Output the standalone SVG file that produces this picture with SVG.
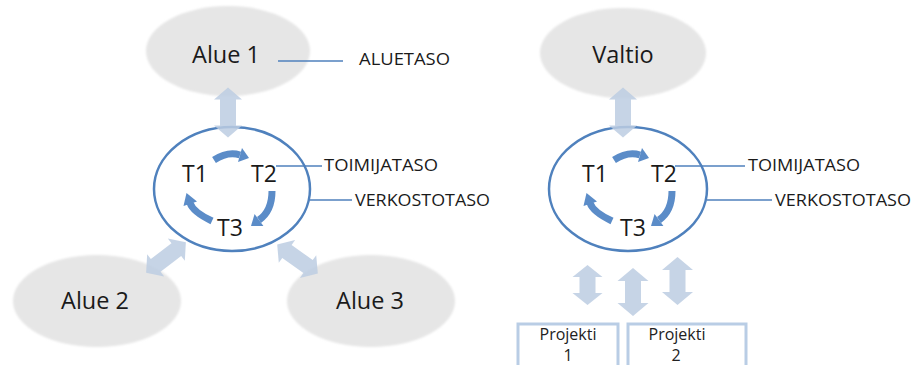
<svg xmlns="http://www.w3.org/2000/svg" xmlns:xlink="http://www.w3.org/1999/xlink" width="915" height="365" viewBox="0 0 915 365">
  <style>
    .area { fill: #e6e6e6; filter: url(#soft); }
    .ring { fill: none; stroke: #4f81bd; stroke-width: 2.5; }
    .big { font-family: "Open Sans", "Liberation Sans", sans-serif; font-size: 23.5px; fill: #1a1a1a; text-anchor: middle; }
    .tag { font-family: "Open Sans", "Liberation Sans", sans-serif; font-size: 23px; fill: #1a1a1a; text-anchor: middle; }
    .lvl { font-family: "Open Sans", "Liberation Sans", sans-serif; font-size: 16px; fill: #1a1a1a; }
    .proj { font-family: "Open Sans", "Liberation Sans", sans-serif; font-size: 16px; fill: #222; text-anchor: middle; }
    .lead { stroke: #4f81bd; stroke-width: 1.3; fill: none; }
    .flow { fill: #bccde2; opacity: 0.85; }
    .cyc { fill: none; stroke: #5b8cc8; stroke-width: 7; }
    .cych { fill: #5b8cc8; }
    .box { fill: #ffffff; stroke: #b9cde5; stroke-width: 3; }
  </style>
  <defs>
    <filter id="soft" x="-10%" y="-10%" width="120%" height="120%">
      <feGaussianBlur stdDeviation="1.2"/>
    </filter>
    <!-- two-headed block arrows, vertical, centred on the origin -->
    <path id="dbl" d="M0,-25 L14,-13 L8,-13 L8,13 L14,13 L0,25 L-14,13 L-8,13 L-8,-13 L-14,-13 Z"/>
    <path id="dbl40" d="M0,-20 L15,-8 L8,-8 L8,8 L15,8 L0,20 L-15,8 L-8,8 L-8,-8 L-15,-8 Z"/>
    <path id="dbl48" d="M0,-24 L15.5,-11 L8,-11 L8,11 L15.5,11 L0,24 L-15.5,11 L-8,11 L-8,-11 L-15.5,-11 Z"/>
    <!-- circular T1 -> T2 -> T3 cycle -->
    <g id="cycle">
      <path class="cyc" d="M214,160 Q228,151 240,155"/>
      <polygon class="cych" points="249,158 238,162 242,148"/>
      <path class="cyc" d="M272,191 Q272,211 259,220"/>
      <polygon class="cych" points="251,226 254.6,214 263.4,226"/>
      <path class="cyc" d="M212,221 Q193,212 190,203"/>
      <polygon class="cych" points="186.5,193 197,201.5 183.5,206"/>
    </g>
  </defs>

  <!-- regional network -->
  <g id="alue1">
    <ellipse class="area" cx="228" cy="51" rx="82" ry="45"/>
    <text class="big" x="226" y="63">Alue 1</text>
  </g>
  <g id="alue2">
    <ellipse class="area" cx="97" cy="301" rx="84" ry="46"/>
    <text class="big" x="95" y="309">Alue 2</text>
  </g>
  <g id="alue3">
    <ellipse class="area" cx="371" cy="301" rx="84" ry="46"/>
    <text class="big" x="370" y="309">Alue 3</text>
  </g>
  <g id="verkosto1">
    <ellipse class="ring" cx="232" cy="189" rx="78" ry="62"/>
    <use xlink:href="#cycle"/>
    <text class="tag" x="195" y="182">T1</text>
    <text class="tag" x="264" y="182">T2</text>
    <text class="tag" x="230" y="236">T3</text>
  </g>

  <!-- national network -->
  <g id="valtio">
    <ellipse class="area" cx="623" cy="53" rx="83" ry="45"/>
    <text class="big" x="623" y="63">Valtio</text>
  </g>
  <g id="verkosto2">
    <ellipse class="ring" cx="628" cy="189" rx="79" ry="62"/>
    <use xlink:href="#cycle" transform="translate(400,0)"/>
    <text class="tag" x="595" y="182">T1</text>
    <text class="tag" x="664" y="182">T2</text>
    <text class="tag" x="633" y="236">T3</text>
  </g>
  <g id="projekti1">
    <rect class="box" x="518" y="324" width="100" height="50"/>
    <text class="proj" x="568" y="340">Projekti</text>
    <text class="proj" x="568" y="361">1</text>
  </g>
  <g id="projekti2">
    <rect class="box" x="628" y="324" width="118" height="50"/>
    <text class="proj" x="677" y="340">Projekti</text>
    <text class="proj" x="676" y="361">2</text>
  </g>

  <!-- connectors -->
  <g id="connectors">
    <use class="flow" xlink:href="#dbl" transform="translate(228,112.5)"/>
    <use class="flow" xlink:href="#dbl" transform="translate(166,257.5) rotate(52.6)"/>
    <use class="flow" xlink:href="#dbl" transform="translate(297.5,259) rotate(-54.3)"/>
    <use class="flow" xlink:href="#dbl" transform="translate(623,112.5)"/>
    <use class="flow" xlink:href="#dbl40" transform="translate(587.5,285)"/>
    <use class="flow" xlink:href="#dbl48" transform="translate(633,292)"/>
    <use class="flow" xlink:href="#dbl48" transform="translate(677.5,281)"/>

    <line class="lead" x1="278" y1="61" x2="343" y2="61"/>
    <line class="lead" x1="276" y1="166" x2="322" y2="166"/>
    <line class="lead" x1="310" y1="200" x2="352" y2="200"/>
    <line class="lead" x1="675" y1="166" x2="745" y2="166"/>
    <line class="lead" x1="707" y1="200" x2="772" y2="200"/>
  </g>

  <!-- level labels -->
  <g id="labels">
    <text class="lvl" x="359" y="65" textLength="91" lengthAdjust="spacingAndGlyphs">ALUETASO</text>
    <text class="lvl" x="324" y="171" textLength="114" lengthAdjust="spacingAndGlyphs">TOIMIJATASO</text>
    <text class="lvl" x="355" y="206" textLength="135" lengthAdjust="spacingAndGlyphs">VERKOSTOTASO</text>
    <text class="lvl" x="748" y="171" textLength="112" lengthAdjust="spacingAndGlyphs">TOIMIJATASO</text>
    <text class="lvl" x="775" y="206" textLength="136" lengthAdjust="spacingAndGlyphs">VERKOSTOTASO</text>
  </g>
</svg>
